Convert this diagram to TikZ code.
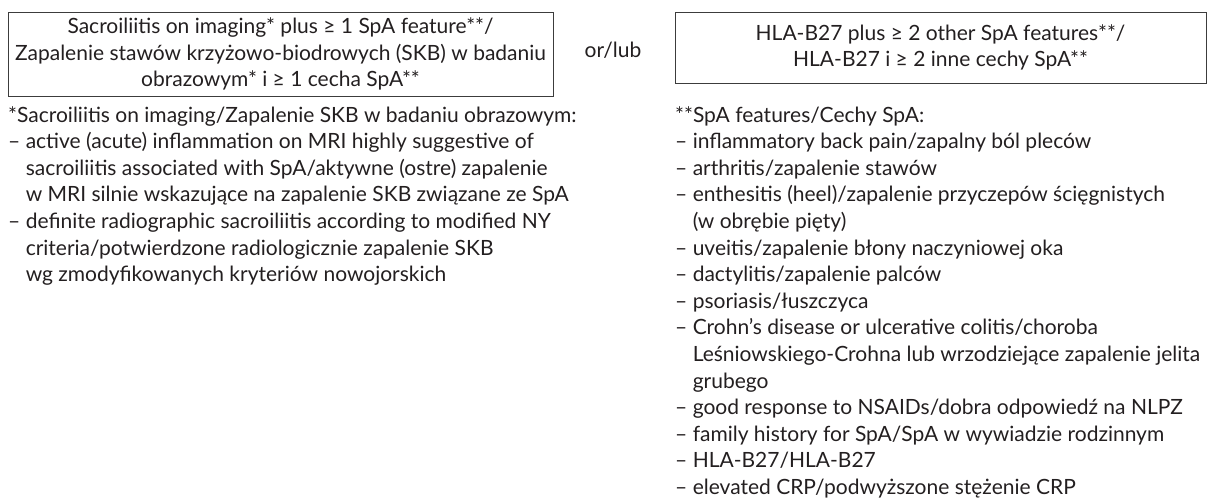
\documentclass[tikz,border=0pt]{standalone}
\usepackage{fontspec}
\setmainfont{Lato}
\usepackage{xcolor}
\usetikzlibrary{positioning}
\definecolor{NoteGray}{RGB}{35,31,32}
\definecolor{FrameGray}{RGB}{60,60,60}
\newcommand{\contline}{\phantom{– }}

\begin{document}
\begin{tikzpicture}[x=1pt, y=1pt, font=\fontsize{21}{26.6}\selectfont, text=NoteGray,
    critbox/.style={draw=FrameGray, line width=0.9pt, align=center, inner sep=0pt},
    notetext/.style={align=left, inner sep=0pt, anchor=base west}]
    % Rahmen der Seite
    \useasboundingbox (0,0) rectangle (1208,-501);

    % Kriterienkaesten
    \node[critbox, minimum width=545, minimum height=84] (imaging) at (280.5,-54) {
        Sacroiliitis on imaging* plus ≥ 1 SpA feature**/\\
        Zapalenie stawów krzyżowo-biodrowych (SKB) w badaniu\\
        obrazowym* i ≥ 1 cecha SpA**};
    \node[critbox, minimum width=531, minimum height=71] (hlab) at (940.5,-47.5) {
        HLA-B27 plus ≥ 2 other SpA features**/\\
        HLA-B27 i ≥ 2 inne cechy SpA**};
    \node (orlub) at (613,-50) {or/lub};

    % Fussnoten (Anker = Grundlinie der letzten Zeile)
    \node[notetext] (imgnote) at (8,-281.6) {
        *Sacroiliitis on imaging/Zapalenie SKB w badaniu obrazowym:\\
        – active (acute) inflammation on MRI highly suggestive of\\
        \contline sacroiliitis associated with SpA/aktywne (ostre) zapalenie\\
        \contline w MRI silnie wskazujące na zapalenie SKB związane ze SpA\\
        – definite radiographic sacroiliitis according to modified NY\\
        \contline criteria/potwierdzone radiologicznie zapalenie SKB\\
        \contline wg zmodyfikowanych kryteriów nowojorskich};
    \node[notetext] (featnote) at (675,-494.4) {
        **SpA features/Cechy SpA:\\
        – inflammatory back pain/zapalny ból pleców\\
        – arthritis/zapalenie stawów\\
        – enthesitis (heel)/zapalenie przyczepów ścięgnistych\\
        \contline (w obrębie pięty)\\
        – uveitis/zapalenie błony naczyniowej oka\\
        – dactylitis/zapalenie palców\\
        – psoriasis/łuszczyca\\
        – Crohn’s disease or ulcerative colitis/choroba\\
        \contline Leśniowskiego-Crohna lub wrzodziejące zapalenie jelita\\
        \contline grubego\\
        – good response to NSAIDs/dobra odpowiedź na NLPZ\\
        – family history for SpA/SpA w wywiadzie rodzinnym\\
        – HLA-B27/HLA-B27\\
        – elevated CRP/podwyższone stężenie CRP};
\end{tikzpicture}
\end{document}
